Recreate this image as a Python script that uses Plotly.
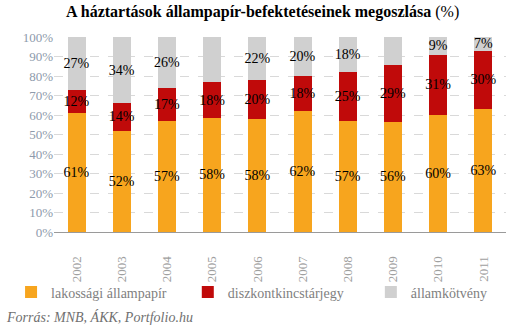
import plotly.graph_objects as go

years = ["2002", "2003", "2004", "2005", "2006", "2007", "2008", "2009", "2010", "2011"]
lakossagi = [61, 52, 57, 58, 58, 62, 57, 56, 60, 63]
diszkont = [12, 14, 17, 18, 20, 18, 25, 29, 31, 30]
kotveny = [27, 34, 26, 23, 22, 20, 18, 14, 9, 7]

series = [
    ("lakossági állampapír", lakossagi, "#F7A51E", "legend"),
    ("diszkontkincstárjegy", diszkont, "#C00A0A", "legend2"),
    ("államkötvény", kotveny, "#D0D0D0", "legend3"),
]

SERIF = "Liberation Serif"
fig = go.Figure()
for name, vals, col, lg in series:
    fig.add_trace(go.Bar(
        x=years, y=vals, name=name, marker=dict(color=col, line=dict(width=0)),
        text=[f"{v}%" for v in vals], textposition="inside", insidetextanchor="middle",
        textangle=0, constraintext="none", cliponaxis=False,
        textfont=dict(family=SERIF, size=14, color="#000000"),
        hoverinfo="skip", legend=lg, showlegend=True,
    ))

def leg(x):
    return dict(
        orientation="h", x=x, xanchor="left", y=-0.31, yanchor="middle",
        font=dict(family=SERIF, size=14, color="#808080"),
        itemwidth=30, bgcolor="rgba(0,0,0,0)",
    )

fig.update_layout(
    width=510, height=336, showlegend=True,
    barmode="stack", barnorm="percent", bargap=0.6,
    paper_bgcolor="white", plot_bgcolor="white",
    margin=dict(l=54, r=4, t=37, b=104),
    title=dict(
        text="<b>A háztartások állampapír-befektetéseinek megoszlása</b> (%)",
        x=0.515, xanchor="center", y=0.965, yanchor="middle",
        font=dict(family=SERIF, size=16, color="#000000"),
    ),
    font=dict(family=SERIF),
    legend=leg(-0.095),
    legend2=leg(0.296),
    legend3=leg(0.701),
    xaxis=dict(
        tickangle=-90, tickfont=dict(family=SERIF, size=13, color="#a0a0a0"),
        showline=True, linecolor="#9a9a9a", linewidth=1, ticks="",
        ticklabelstandoff=18, showgrid=False,
    ),
    yaxis=dict(
        range=[0, 100], dtick=10, ticksuffix="%",
        tickfont=dict(family=SERIF, size=13, color="#8d9aab"),
        showgrid=True, gridcolor="#d9d9d9", griddash="dash", gridwidth=1,
        zeroline=False, showline=False, ticks="",
    ),
    annotations=[dict(
        text="<i>Forrás: MNB, ÁKK, Portfolio.hu</i>", xref="paper", yref="paper",
        x=-0.11, xanchor="left", y=-0.437, yanchor="middle", showarrow=False,
        font=dict(family=SERIF, size=14, color="#707070"),
    )],
)

fig.write_html("out.html")
